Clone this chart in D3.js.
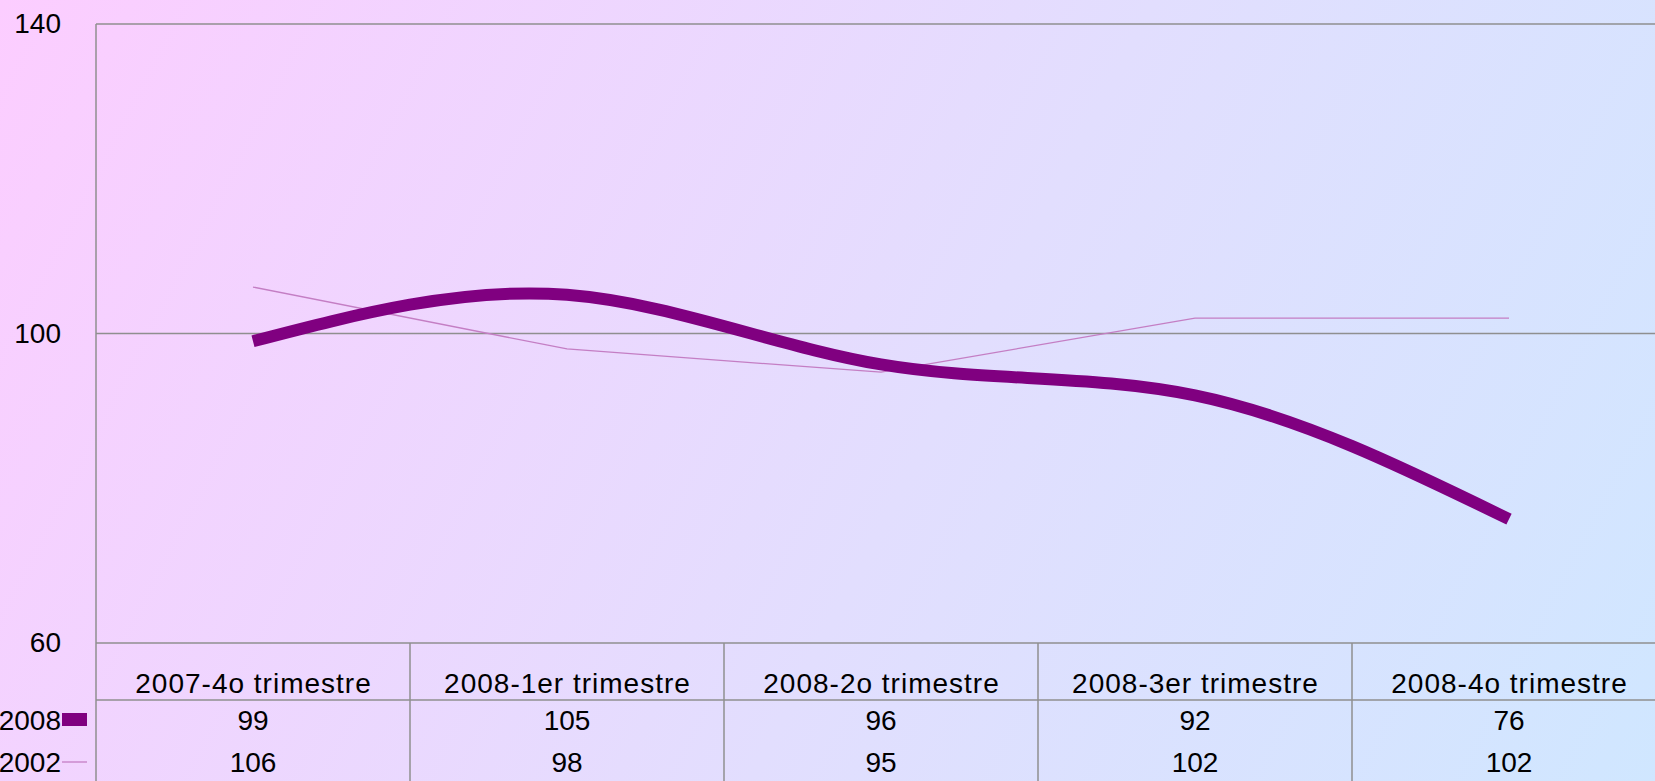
<!DOCTYPE html>
<html>
<head>
<meta charset="utf-8">
<script src="https://cdn.jsdelivr.net/npm/d3@7"></script>
<style>
  html, body { margin: 0; padding: 0; overflow: hidden; }
  svg { display: block; font-family: "Liberation Sans", Arial, sans-serif; }
</style>
</head>
<body>
<svg id="chart" width="1655" height="781"></svg>
<script>
// Quarterly index values, two series shown as lines and in the data table below
const categories = ["2007-4o trimestre", "2008-1er trimestre", "2008-2o trimestre", "2008-3er trimestre", "2008-4o trimestre"];
const seriesNames = ["2008", "2002"];
const values2008 = [99, 105, 96, 92, 76];
const values2002 = [106, 98, 95, 102, 102];
const yTicks = [60, 100, 140];

(function () {
  const W = 1655, H = 781;
  const plotLeft = 96, plotTop = 24, plotRight = 1666, plotBottom = 643;
  const catRowBottom = 700;

  const svg = d3.select("#chart");

  // background wash from pink to pale blue
  const defs = svg.append("defs");
  const grad = defs.append("linearGradient")
    .attr("id", "bg").attr("gradientUnits", "userSpaceOnUse")
    .attr("x1", 0).attr("y1", 0).attr("x2", W).attr("y2", H * 1.1);
  grad.append("stop").attr("offset", "0%").attr("stop-color", "#fccdff");
  grad.append("stop").attr("offset", "55%").attr("stop-color", "#e2defe");
  grad.append("stop").attr("offset", "100%").attr("stop-color", "#cfe7ff");
  svg.append("rect").attr("width", W).attr("height", H).attr("fill", "url(#bg)");

  const x = d3.scaleBand().domain(categories).range([plotLeft, plotRight]);
  const y = d3.scaleLinear().domain([60, 140]).range([plotBottom, plotTop]);

  const gridColor = "#8f8f8f";
  const fontSize = 28;

  // horizontal grid lines
  svg.append("g").selectAll("line").data(yTicks).join("line")
    .attr("x1", plotLeft).attr("x2", W)
    .attr("y1", d => y(d)).attr("y2", d => y(d))
    .attr("stroke", gridColor).attr("stroke-width", 1.5);

  // y-axis labels
  svg.append("g").selectAll("text").data(yTicks).join("text")
    .attr("x", 61).attr("y", d => y(d) + 9)
    .attr("text-anchor", "end").attr("font-size", fontSize).attr("fill", "#000")
    .text(d => d);

  // data table grid
  const tableLines = svg.append("g").attr("stroke", gridColor).attr("stroke-width", 1.5);
  tableLines.append("line").attr("x1", plotLeft).attr("x2", plotLeft).attr("y1", plotTop).attr("y2", H);
  tableLines.append("line").attr("x1", plotLeft).attr("x2", W).attr("y1", catRowBottom).attr("y2", catRowBottom);
  tableLines.selectAll("line.col").data(categories.slice(1)).join("line").attr("class", "col")
    .attr("x1", d => x(d)).attr("x2", d => x(d))
    .attr("y1", plotBottom).attr("y2", H);

  // category labels
  svg.append("g").selectAll("text").data(categories).join("text")
    .attr("x", d => x(d) + x.bandwidth() / 2 + 0.5).attr("y", 693)
    .attr("text-anchor", "middle").attr("font-size", fontSize)
    .attr("letter-spacing", 1)
    .text(d => d);

  // value rows
  const rows = [
    { name: seriesNames[0], vals: values2008, base: 730 },
    { name: seriesNames[1], vals: values2002, base: 772 }
  ];
  rows.forEach(r => {
    svg.append("g").selectAll("text").data(r.vals).join("text")
      .attr("x", (d, i) => x(categories[i]) + x.bandwidth() / 2).attr("y", r.base)
      .attr("text-anchor", "middle").attr("font-size", fontSize)
      .text(d => d);
    svg.append("text").attr("x", 61).attr("y", r.base)
      .attr("text-anchor", "end").attr("font-size", fontSize).text(r.name);
  });

  // legend keys inside the table
  svg.append("rect").attr("x", 62).attr("y", 713).attr("width", 25).attr("height", 13).attr("fill", "#800080");
  svg.append("line").attr("x1", 62).attr("x2", 87).attr("y1", 762).attr("y2", 762)
    .attr("stroke", "#c47ec4").attr("stroke-width", 1.3);

  // series lines
  const cx = (d, i) => x(categories[i]) + x.bandwidth() / 2;
  svg.append("path").datum(values2002)
    .attr("d", d3.line().x(cx).y(d => y(d)))
    .attr("fill", "none").attr("stroke", "#c47ec4").attr("stroke-width", 1.3);
  svg.append("path").datum(values2008)
    .attr("d", d3.line().x(cx).y(d => y(d)).curve(d3.curveNatural))
    .attr("fill", "none").attr("stroke", "#800080").attr("stroke-width", 12);
})();
</script>
</body>
</html>
